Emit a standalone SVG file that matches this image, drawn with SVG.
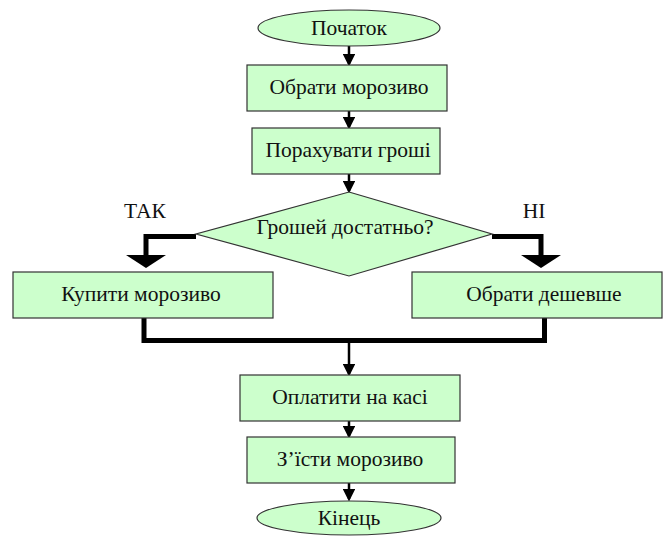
<svg xmlns="http://www.w3.org/2000/svg" width="665" height="538" viewBox="0 0 665 538" font-family="'Liberation Serif', 'Times New Roman', serif">
<style>
.n{fill:#ccffcc;stroke:#333;stroke-width:1.2}
.t{font-size:21.5px;fill:#111;text-anchor:middle}
.c{stroke:#000;stroke-width:2.5;fill:none}
.k{stroke:#000;stroke-width:5;fill:none}
.h{fill:#000}
</style>
<defs>
<marker id="ah" markerWidth="5" markerHeight="5" refX="4" refY="2.5" orient="auto" markerUnits="strokeWidth"><path d="M0,0 L5,2.5 L0,5 Z" fill="#000"/></marker>
</defs>
<rect width="665" height="538" fill="#fff"/>
<g id="connectors">
<path class="c" d="M349,46 V64" marker-end="url(#ah)"/>
<path class="c" d="M349,111 V127" marker-end="url(#ah)"/>
<path class="c" d="M349,174 V191" marker-end="url(#ah)"/>
<path class="k" d="M196,236.5 H146 V256" stroke-width="8"/>
<polygon class="h" points="126,255 166,255 146,268"/>
<path class="k" d="M492,236.5 H541 V256" stroke-width="8"/>
<polygon class="h" points="521,255 561,255 541,268"/>
<path class="k" d="M144,318 V340.5 H544.5 V318"/>
<path class="c" d="M349,340 V374" marker-end="url(#ah)"/>
<path class="c" d="M349,421 V436" marker-end="url(#ah)"/>
<path class="c" d="M349,483 V499" marker-end="url(#ah)"/>
<text class="t" x="145" y="218">ТАК</text>
<text class="t" x="534" y="218">НІ</text>
</g>
<g id="start"><ellipse class="n" cx="349" cy="28" rx="91" ry="18"/><text class="t" x="349" y="35">Початок</text></g>
<g id="choose"><rect class="n" x="247" y="65" width="200" height="46"/><text class="t" x="349" y="94">Обрати морозиво</text></g>
<g id="count"><rect class="n" x="252" y="128" width="188" height="46"/><text class="t" x="348" y="157">Порахувати гроші</text></g>
<g id="decision"><polygon class="n" points="349,192 492,234 349,276 196,234"/><text class="t" x="345" y="234">Грошей достатньо?</text></g>
<g id="buy"><rect class="n" x="13" y="272" width="260" height="46"/><text class="t" x="141" y="301">Купити морозиво</text></g>
<g id="cheaper"><rect class="n" x="412" y="272" width="250" height="46"/><text class="t" x="544" y="301">Обрати дешевше</text></g>
<g id="pay"><rect class="n" x="240" y="375" width="220" height="46"/><text class="t" x="350" y="404">Оплатити на касі</text></g>
<g id="eat"><rect class="n" x="247" y="437" width="208" height="46"/><text class="t" x="350" y="466">З’їсти морозиво</text></g>
<g id="end"><ellipse class="n" cx="349" cy="518" rx="92" ry="17"/><text class="t" x="349" y="525">Кінець</text></g>
</svg>
